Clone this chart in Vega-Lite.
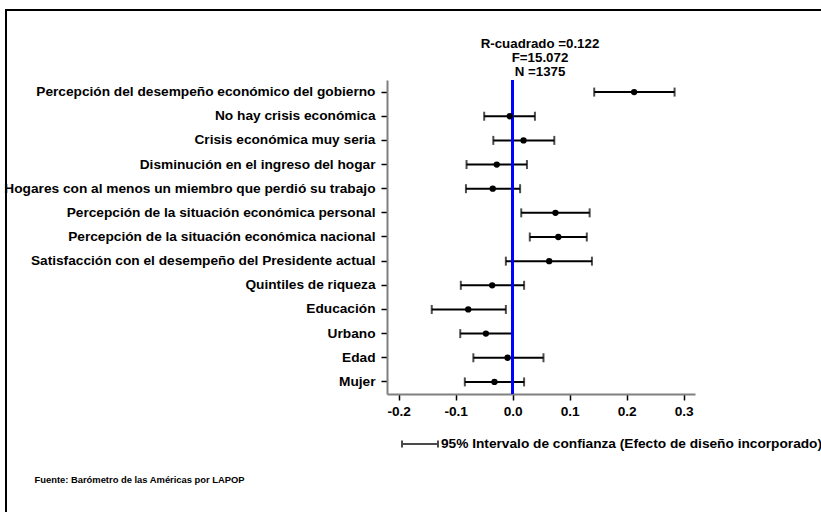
{
  "$schema": "https://vega.github.io/schema/vega-lite/v6.json",
  "width": 830,
  "height": 520,
  "autosize": {"type": "none"},
  "padding": {"left": 6, "top": 10, "right": 0, "bottom": 0},
  "title": {
    "text": ["R-cuadrado =0.122", "F=15.072", "N =1375"],
    "anchor": "middle",
    "frame": "group",
    "baseline": "top",
    "offset": 0,
    "dx": 119,
    "dy": 68,
    "fontSize": 13.3,
    "fontWeight": "bold",
    "lineHeight": 14,
    "font": "Liberation Sans",
    "color": "black"
  },
  "data": {
    "values": [
      {"label": "Percepción del desempeño económico del gobierno", "coef": 0.213, "lo": 0.143, "hi": 0.284},
      {"label": "No hay crisis económica", "coef": -0.005, "lo": -0.050, "hi": 0.039},
      {"label": "Crisis económica muy seria", "coef": 0.019, "lo": -0.034, "hi": 0.073},
      {"label": "Disminución en el ingreso del hogar", "coef": -0.028, "lo": -0.081, "hi": 0.025},
      {"label": "Hogares con al menos un miembro que perdió su trabajo", "coef": -0.035, "lo": -0.082, "hi": 0.013},
      {"label": "Percepción de la situación económica personal", "coef": 0.075, "lo": 0.015, "hi": 0.135},
      {"label": "Percepción de la situación económica nacional", "coef": 0.080, "lo": 0.030, "hi": 0.130},
      {"label": "Satisfacción con el desempeño del Presidente actual", "coef": 0.064, "lo": -0.012, "hi": 0.139},
      {"label": "Quintiles de riqueza", "coef": -0.036, "lo": -0.091, "hi": 0.020},
      {"label": "Educación", "coef": -0.078, "lo": -0.142, "hi": -0.012},
      {"label": "Urbano", "coef": -0.047, "lo": -0.092, "hi": -0.001},
      {"label": "Edad", "coef": -0.009, "lo": -0.069, "hi": 0.054},
      {"label": "Mujer", "coef": -0.032, "lo": -0.084, "hi": 0.020}
    ]
  },
  "layer": [
    {
      "mark": {"type": "errorbar", "thickness": 2, "ticks": {"size": 9, "thickness": 2}, "rule": {"strokeWidth": 2}},
      "encoding": {
        "x": {
          "field": "lo",
          "type": "quantitative",
          "scale": {"domain": [-0.2205, 0.3198], "range": [381, 689], "nice": false, "zero": false},
          "axis": {
            "values": [-0.2, -0.1, 0, 0.1, 0.2, 0.3],
            "labelExpr": "datum.value < 0 ? '-' + format(-datum.value, '.1f') : format(datum.value, '.1f')",
            "offset": -136,
            "grid": false,
            "domainColor": "#808080",
            "domainWidth": 2,
            "tickColor": "black",
            "tickSize": 6,
            "tickWidth": 1.5,
            "labelFontSize": 13.7,
            "labelFont": "Liberation Sans",
            "labelFontWeight": "bold",
            "labelColor": "black",
            "labelPadding": 4,
            "labelFlush": false,
            "title": "Fuente: Barómetro de las Américas por LAPOP",
            "titleX": 28,
            "titleY": 88,
            "titleAlign": "left",
            "titleAnchor": "start",
            "titleBaseline": "alphabetic",
            "titleFont": "Liberation Sans",
            "titleFontSize": 9.4,
            "titleFontWeight": "bold",
            "titleColor": "black"
          }
        },
        "x2": {"field": "hi"},
        "y": {
          "field": "label",
          "type": "nominal",
          "sort": null,
          "scale": {
            "type": "band",
            "paddingInner": 0,
            "paddingOuter": 0,
            "range": [70, 384],
            "domain": [
              "Percepción del desempeño económico del gobierno",
              "No hay crisis económica",
              "Crisis económica muy seria",
              "Disminución en el ingreso del hogar",
              "Hogares con al menos un miembro que perdió su trabajo",
              "Percepción de la situación económica personal",
              "Percepción de la situación económica nacional",
              "Satisfacción con el desempeño del Presidente actual",
              "Quintiles de riqueza",
              "Educación",
              "Urbano",
              "Edad",
              "Mujer"
            ]
          },
          "axis": {
            "title": null,
            "offset": -381,
            "grid": false,
            "domainColor": "#808080",
            "domainWidth": 2,
            "tickColor": "black",
            "tickSize": 6,
            "tickWidth": 1.5,
            "labelFontSize": 13.7,
            "labelFont": "Liberation Sans",
            "labelFontWeight": "bold",
            "labelColor": "black",
            "labelPadding": 6,
            "labelLimit": 1000
          }
        },
        "color": {
          "datum": "95% Intervalo de confianza (Efecto de diseño incorporado)",
          "scale": {"range": ["black"]},
          "legend": {
            "orient": "none",
            "legendX": 395,
            "legendY": 415,
            "title": null,
            "padding": 0,
            "symbolType": "M-1,-0.2V0.2M-1,0H1M1,-0.2V0.2",
            "symbolSize": 1296,
            "symbolStrokeWidth": 2,
            "symbolStrokeColor": "black",
            "symbolFillColor": "transparent",
            "labelFontSize": 13.7,
            "labelFont": "Liberation Sans",
            "labelFontWeight": "bold",
            "labelColor": "black",
            "labelLimit": 1000,
            "labelOffset": 2
          }
        }
      }
    },
    {
      "mark": {"type": "rule", "color": "#0000ff", "strokeWidth": 2},
      "encoding": {
        "x": {"datum": 0, "type": "quantitative"},
        "y": {"datum": "Percepción del desempeño económico del gobierno", "type": "nominal", "bandPosition": 0},
        "y2": {"datum": "Mujer", "bandPosition": 1}
      }
    },
    {
      "mark": {"type": "point", "filled": true, "color": "black", "size": 40, "opacity": 1},
      "encoding": {
        "x": {"field": "coef", "type": "quantitative"},
        "y": {"field": "label", "type": "nominal"}
      }
    }
  ],
  "config": {
    "view": {"stroke": "black", "strokeWidth": 2, "fill": null},
    "font": "Liberation Sans"
  }
}
